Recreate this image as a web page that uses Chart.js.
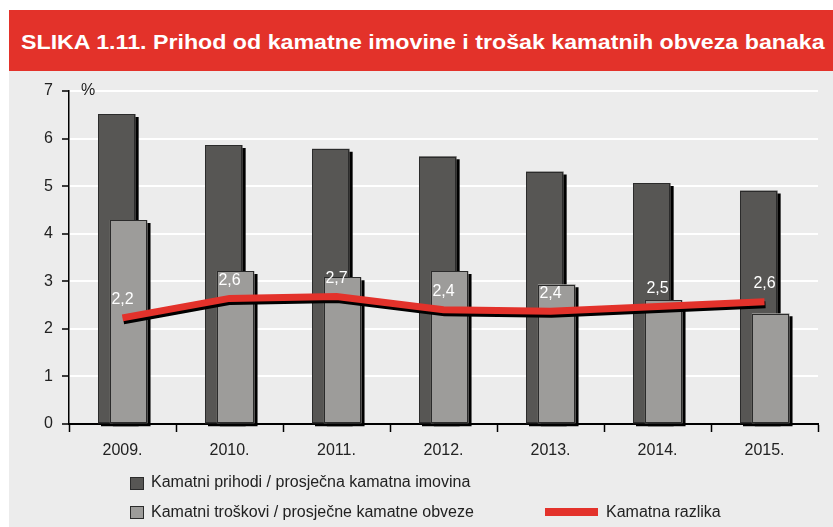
<!DOCTYPE html>
<html>
<head>
<meta charset="utf-8">
<script src="https://cdn.jsdelivr.net/npm/chart.js@4"></script>
<style>
    body { margin: 0; width: 833px; height: 527px; background: #fff; position: relative; overflow: hidden; font-family: "Liberation Sans", Arial, sans-serif; }
    .banner { position: absolute; left: 9px; top: 10px; width: 824px; height: 61px; background: #e3322a; overflow: hidden; }
    .banner h1 { margin: 0; position: absolute; left: 12px; top: 20px; font-size: 20px; line-height: 24px; font-weight: bold; color: #fff; white-space: nowrap; transform: scaleX(1.16); transform-origin: left center; }
    .panel { position: absolute; left: 9px; top: 71px; width: 824px; height: 456px; background: #ececec; }
    #chart { position: absolute; left: 0; top: 71px; }
    .legend { position: absolute; font-size: 16px; color: #222; white-space: nowrap; }
    .legend .box { position: absolute; width: 12px; height: 11px; border: 1px solid #2b2b2b; }
    .legend .swatch { position: absolute; width: 53px; height: 8px; background: #e3322b; }
    .legend span.txt { position: absolute; line-height: 18px; }
</style>
</head>
<body>
<div class="banner"><h1>SLIKA 1.11. Prihod od kamatne imovine i trošak kamatnih obveza banaka</h1></div>
<div class="panel"></div>
<canvas id="chart" width="833" height="456"></canvas>
<div class="legend">
    <div class="box" style="left:130px; top:477px; background:#575654;"></div>
    <span class="txt" style="left:151px; top:473px;">Kamatni prihodi / prosječna kamatna imovina</span>
    <div class="box" style="left:130px; top:506px; background:#9d9c9a;"></div>
    <span class="txt" style="left:151px; top:503px;">Kamatni troškovi / prosječne kamatne obveze</span>
    <div class="swatch" style="left:545px; top:508px;"></div>
    <span class="txt" style="left:606px; top:503px;">Kamatna razlika</span>
</div>
<script>
// values (percent)
const years = ['2009.', '2010.', '2011.', '2012.', '2013.', '2014.', '2015.'];
const incomeRate = [6.51, 5.86, 5.78, 5.62, 5.30, 5.06, 4.90];   // Kamatni prihodi / prosječna kamatna imovina
const costRate = [4.28, 3.21, 3.08, 3.21, 2.93, 2.60, 2.32];     // Kamatni troškovi / prosječne kamatne obveze
const spread = [2.23, 2.64, 2.68, 2.40, 2.37, 2.47, 2.57];       // Kamatna razlika
const yTicks = [0, 1, 2, 3, 4, 5, 6, 7];

const SHIFT_BACK = 0.053;   // dark bar sits a little left of the category centre
const SHIFT_FRONT = 0.058;  // light bar a little right, overlapping it

const fontFamily = '"Liberation Sans", Arial, sans-serif';

// black drop shadow under bars and line, thin outline round the bars
const shadowPlugin = {
    id: 'dropShadow',
    beforeDatasetDraw(chart, args) {
        const ctx = chart.ctx;
        ctx.save();
        ctx.shadowColor = '#000';
        ctx.shadowBlur = 0;
        ctx.shadowOffsetX = args.meta.type === 'line' ? 1 : 3;
        ctx.shadowOffsetY = 3;
    },
    afterDatasetDraw(chart, args) {
        const ctx = chart.ctx;
        ctx.restore();
        if (args.meta.type !== 'bar') return;
        ctx.save();
        ctx.strokeStyle = '#2b2b2b';
        ctx.lineWidth = 1;
        args.meta.data.forEach(bar => {
            const { x, y, base, width } = bar.getProps(['x', 'y', 'base', 'width'], true);
            ctx.strokeRect(Math.round(x - width / 2) + 0.5, Math.round(y) + 0.5,
                Math.round(width) - 1, Math.round(base - y) - 1);
        });
        ctx.restore();
    }
};

// white value labels above the line, plus the "%" unit
const labelPlugin = {
    id: 'lineLabels',
    afterDatasetsDraw(chart) {
        const ctx = chart.ctx;
        const meta = chart.getDatasetMeta(2);
        ctx.save();
        ctx.font = '16px ' + fontFamily;
        ctx.fillStyle = '#fff';
        ctx.textAlign = 'center';
        ctx.textBaseline = 'middle';
        meta.data.forEach((pt, i) => {
            ctx.fillText(spread[i].toFixed(1).replace('.', ','), pt.x, pt.y - 18);
        });
        ctx.fillStyle = '#222';
        ctx.textAlign = 'left';
        ctx.fillText('%', chart.chartArea.left + 12, chart.chartArea.top);
        ctx.restore();
    }
};

const ctx = document.getElementById('chart').getContext('2d');
new Chart(ctx, {
    type: 'bar',
    data: {
        labels: years,
        datasets: [
            {
                label: 'Kamatni prihodi / prosječna kamatna imovina',
                data: incomeRate.map((v, i) => ({ x: i - SHIFT_BACK, y: v })),
                xAxisID: 'x',
                backgroundColor: '#575654',
                borderWidth: 0,
                barThickness: 37,
                grouped: false,
                clip: false,
                order: 3
            },
            {
                label: 'Kamatni troškovi / prosječne kamatne obveze',
                data: costRate.map((v, i) => ({ x: i + SHIFT_FRONT, y: v })),
                xAxisID: 'x',
                backgroundColor: '#9d9c9a',
                borderWidth: 0,
                barThickness: 37,
                grouped: false,
                clip: false,
                order: 2
            },
            {
                type: 'line',
                label: 'Kamatna razlika',
                data: spread.map((v, i) => ({ x: i, y: v })),
                xAxisID: 'x',
                borderColor: '#e3322b',
                borderWidth: 7,
                borderCapStyle: 'butt',
                borderJoinStyle: 'miter',
                pointRadius: 0,
                tension: 0,
                clip: false,
                order: 1
            }
        ]
    },
    options: {
        responsive: false,
        animation: false,
        events: [],
        layout: { padding: { left: 0, right: 15, top: 20, bottom: 0 } },
        plugins: {
            legend: { display: false },
            tooltip: { enabled: false }
        },
        scales: {
            x: {
                type: 'linear',
                display: false,
                min: -0.5,
                max: years.length - 0.5,
                offset: false
            },
            xc: {
                type: 'category',
                labels: years,
                position: 'bottom',
                offset: true,
                afterFit: (scale) => { scale.height = 103; },
                grid: {
                    offset: true,
                    drawOnChartArea: false,
                    tickLength: 8,
                    tickColor: '#000',
                    tickWidth: 1.5
                },
                border: { color: '#000', width: 2 },
                ticks: {
                    font: { family: fontFamily, size: 16 },
                    color: '#222',
                    padding: 9,
                    maxRotation: 0
                }
            },
            y: {
                min: 0,
                max: 7,
                afterFit: (scale) => { scale.width = 69; },
                afterBuildTicks: (scale) => { scale.ticks = yTicks.map(v => ({ value: v })); },
                grid: {
                    color: '#fff',
                    lineWidth: 2,
                    tickColor: '#000',
                    tickLength: 7,
                    tickWidth: 1.5,
                    z: -1
                },
                border: { color: '#000', width: 1.5 },
                ticks: {
                    font: { family: fontFamily, size: 16 },
                    color: '#222',
                    padding: 9
                }
            }
        }
    },
    plugins: [shadowPlugin, labelPlugin]
});
</script>
</body>
</html>
